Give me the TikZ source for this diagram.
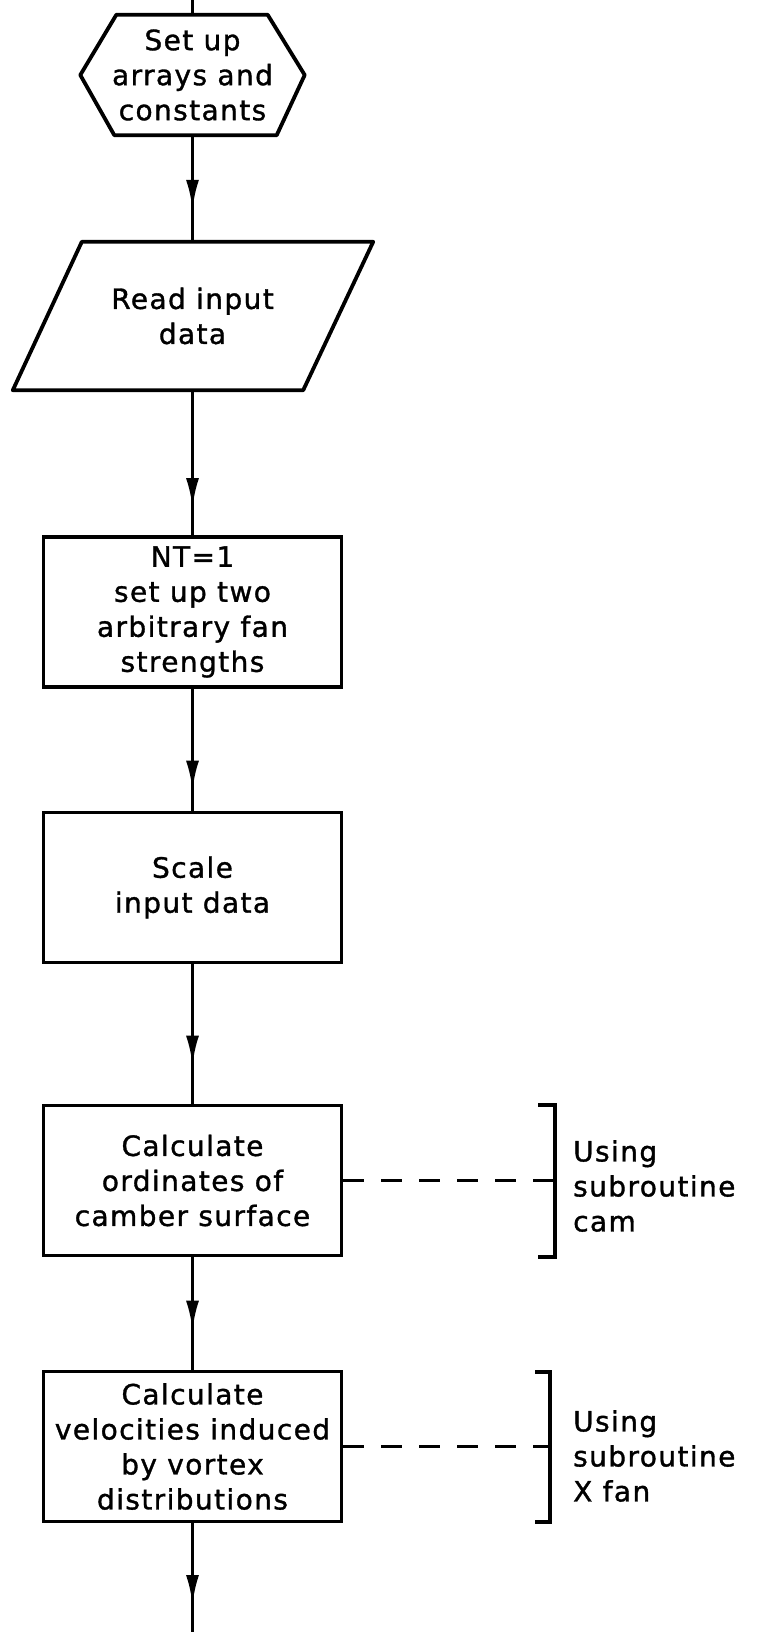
\documentclass[tikz,border=0pt]{standalone}
\usepackage{fontspec}
\setmainfont{DejaVu Sans}[LetterSpace=5,FakeBold=1.2]
\usetikzlibrary{arrows.meta,decorations.markings,calc}
\begin{document}
\begin{tikzpicture}[x=1pt,y=-1pt,
  txt/.style={font=\fontsize{28}{35}\selectfont, align=center, inner sep=0pt},
  procbox/.style={txt, draw, line width=3.8pt, minimum width=298pt, minimum height=150pt},
  shapeline/.style={line width=3.8pt, line join=round},
  flow/.style={line width=3.6pt, postaction={decorate}, decoration={markings, mark=at position #1 with {\arrow{Latex[length=30pt,width=13pt]}}}},
  link/.style={line width=3.4pt, dash pattern=on 21pt off 17pt},
  brk/.style={line width=3.8pt}
]
\fill[white] (0,0) rectangle (760,1632);
\useasboundingbox (0,0) rectangle (760,1632);

\coordinate (top) at (192.5,0);
\coordinate (bot) at (192.5,1632);

\node[txt, minimum width=224pt, minimum height=120pt] (hex) at (192.5,75) {Set up\\arrays and\\constants};
\draw[shapeline] (hex.west) -- ($(hex.north west)+(36,0)$) -- ($(hex.north east)+(-37,0)$) -- (hex.east) -- ($(hex.south east)+(-28,0)$) -- ($(hex.south west)+(34,0)$) -- cycle;

\node[txt, minimum width=290pt, minimum height=148pt] (read) at (192.5,316) {Read input\\data};
\draw[shapeline] ($(read.north west)+(34.5,0)$) -- ($(read.north east)+(35.5,0)$) -- ($(read.south east)+(-34.5,0)$) -- ($(read.south west)+(-34.5,0)$) -- cycle;

\node[procbox] (nt) at (192.5,612) {NT=1\\set up two\\arbitrary fan\\strengths};
\node[procbox] (scale) at (192.5,887.5) {Scale\\input data};
\node[procbox] (cam) at (192.5,1180.5) {Calculate\\ordinates of\\camber surface};
\node[procbox] (vel) at (192.5,1446.5) {Calculate\\velocities induced\\by vortex\\distributions};

\draw[line width=3.6pt] (top) -- (hex.north);
\draw[flow=-32pt] (hex.south) -- (read.north);
\draw[flow=-27pt] (read.south) -- (nt.north);
\draw[flow=-20pt] (nt.south) -- (scale.north);
\draw[flow=-38pt] (scale.south) -- (cam.north);
\draw[flow=-39pt] (cam.south) -- (vel.north);
\draw[flow=-27pt] (vel.south) -- (bot);

\node[inner sep=0pt, minimum height=152pt, minimum width=0pt] (br1) at (555,1181) {};
\draw[brk] ($(br1.north)+(-17,0)$) -- (br1.north) -- (br1.south) -- ($(br1.south)+(-17,0)$);
\draw[link] (cam.east) -- (cam.east -| br1.center);
\node[txt, align=left, anchor=west] (lab1) at (573,1186) {Using\\subroutine\\cam};

\node[inner sep=0pt, minimum height=150pt, minimum width=0pt] (br2) at (550,1447) {};
\draw[brk] ($(br2.north)+(-15,0)$) -- (br2.north) -- (br2.south) -- ($(br2.south)+(-15,0)$);
\draw[link] (vel.east) -- (vel.east -| br2.center);
\node[txt, align=left, anchor=west] (lab2) at (573,1456) {Using\\subroutine\\X fan};
\end{tikzpicture}
\end{document}
